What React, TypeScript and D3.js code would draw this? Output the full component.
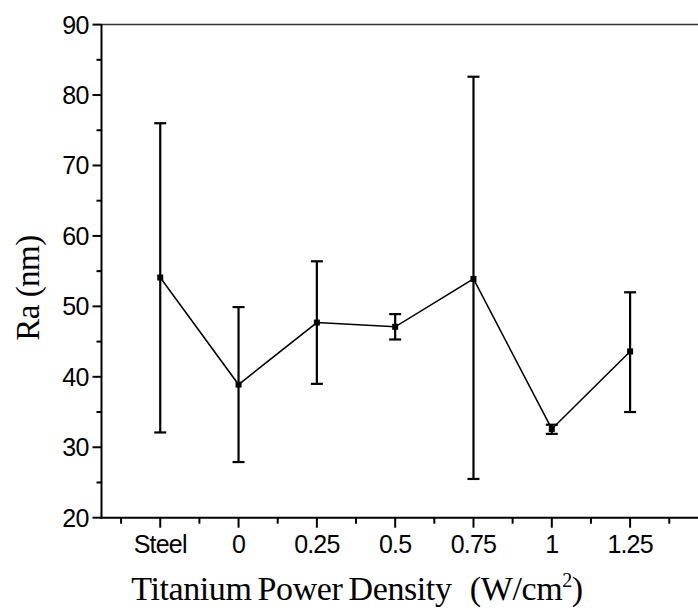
import React from "react";
import * as d3 from "d3";

const categories = ["Steel", "0", "0.25", "0.5", "0.75", "1", "1.25"];
const meanValues = [54.1, 38.9, 47.7, 47.1, 53.9, 32.6, 43.6];
const upperValues = [76.0, 49.9, 56.4, 48.9, 82.6, 33.2, 52.0];
const lowerValues = [32.1, 27.9, 39.0, 45.3, 25.5, 31.9, 35.0];
const yTicks = [20, 30, 40, 50, 60, 70, 80, 90];
const yMinorTicks = [25, 35, 45, 55, 65, 75, 85];

const W = 698;
const H = 611;

export default function App() {
  const x = d3.scaleLinear().domain([-0.75, 7.25]).range([101.5, 728]);
  const y = d3.scaleLinear().domain([20, 90]).range([517.7, 24.6]);
  const line = d3
    .line<number>()
    .x((_, i) => x(i))
    .y((d) => y(d));
  const xMajor = d3.range(0, 8);
  const xMinor = d3.range(-0.5, 7.5, 1);
  const tickFont = "'Liberation Sans', Arial, sans-serif";
  const titleFont = "'Liberation Serif', 'Times New Roman', serif";
  const capHalf = 6;
  return (
    <svg
      width={W}
      height={H}
      style={{ position: "absolute", left: 0, top: 0, background: "#fff" }}
    >
      <rect x={0} y={0} width={W} height={H} fill="#fff" />
      {/* top frame line */}
      <line x1={x(-0.75)} x2={W} y1={y(90)} y2={y(90)} stroke="#333" strokeWidth={1.5} />
      {/* left axis */}
      <line x1={x(-0.75)} x2={x(-0.75)} y1={y(90) - 0.5} y2={y(20) + 1} stroke="#000" strokeWidth={2} />
      {/* bottom axis */}
      <line x1={x(-0.75) - 1} x2={W} y1={y(20)} y2={y(20)} stroke="#000" strokeWidth={2} />
      {yTicks.map((t) => (
        <g key={"yt" + t}>
          <line x1={x(-0.75) - 9} x2={x(-0.75)} y1={y(t)} y2={y(t)} stroke="#000" strokeWidth={2} />
          <text
            x={x(-0.75) - 13}
            y={y(t)}
            dy="0.36em"
            textAnchor="end"
            fontFamily={tickFont}
            fontSize={25}
            letterSpacing={-0.8}
          >
            {t}
          </text>
        </g>
      ))}
      {yMinorTicks.map((t) => (
        <line key={"ym" + t} x1={x(-0.75) - 5} x2={x(-0.75)} y1={y(t)} y2={y(t)} stroke="#000" strokeWidth={2} />
      ))}
      {xMajor.map((i) => (
        <line key={"xt" + i} x1={x(i)} x2={x(i)} y1={y(20)} y2={y(20) + 10} stroke="#000" strokeWidth={2} />
      ))}
      {xMinor.map((i) => (
        <line key={"xm" + i} x1={x(i)} x2={x(i)} y1={y(20)} y2={y(20) + 6} stroke="#000" strokeWidth={2} />
      ))}
      {categories.map((c, i) => (
        <text
          key={"xl" + c}
          x={x(i)}
          y={y(20) + 35}
          textAnchor="middle"
          fontFamily={tickFont}
          fontSize={25}
          letterSpacing={-0.8}
        >
          {c}
        </text>
      ))}
      {/* error bars */}
      {categories.map((c, i) => (
        <g key={"eb" + c} stroke="#000" strokeWidth={2.2}>
          <line x1={x(i)} x2={x(i)} y1={y(upperValues[i])} y2={y(lowerValues[i])} />
          <line x1={x(i) - capHalf} x2={x(i) + capHalf} y1={y(upperValues[i])} y2={y(upperValues[i])} />
          <line x1={x(i) - capHalf} x2={x(i) + capHalf} y1={y(lowerValues[i])} y2={y(lowerValues[i])} />
        </g>
      ))}
      <path d={line(meanValues) || ""} fill="none" stroke="#000" strokeWidth={1.5} />
      {meanValues.map((v, i) => (
        <rect key={"pt" + i} x={x(i) - 3} y={y(v) - 3} width={6} height={6} fill="#000" />
      ))}
      <text
        transform={`translate(39, 288) rotate(-90)`}
        textAnchor="middle"
        fontFamily={titleFont}
        fontSize={33}
        letterSpacing={-0.5}
      >
        Ra (nm)
      </text>
      <text
        x={357}
        y={600}
        textAnchor="middle"
        fontFamily={titleFont}
        fontSize={34}
        letterSpacing={-0.4}
        wordSpacing={-2}
      >
        Titanium Power Density{"\u00a0\u00a0\u00a0"}(W/cm
        <tspan dy={-13} fontSize={20}>2</tspan>
        <tspan dy={13}>)</tspan>
      </text>
    </svg>
  );
}
